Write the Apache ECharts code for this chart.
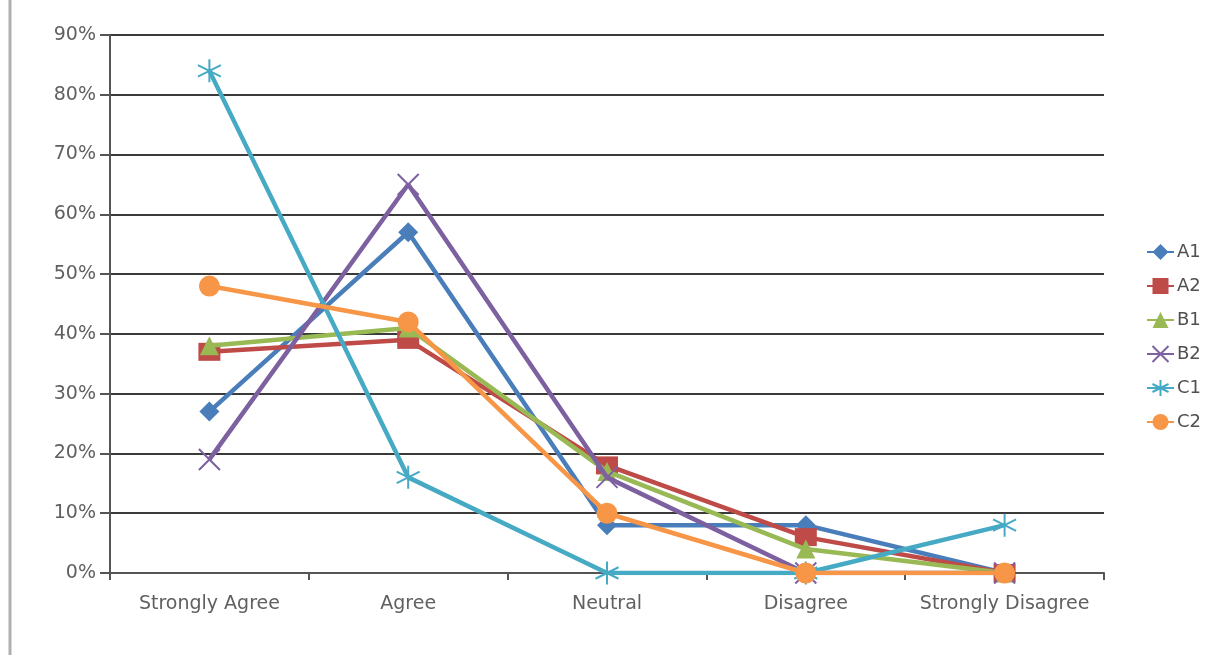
<!DOCTYPE html>
<html>
<head>
<meta charset="utf-8">
<script src="https://cdn.jsdelivr.net/npm/echarts@6/dist/echarts.min.js"></script>
<style>
  html, body { margin: 0; padding: 0; background: #fff; }
  #chart { width: 1232px; height: 655px; }
</style>
</head>
<body>
<div id="chart"></div>
<script>
// Survey responses per group, in percent
const categories = ['Strongly Agree', 'Agree', 'Neutral', 'Disagree', 'Strongly Disagree'];
const yTicks = [0, 10, 20, 30, 40, 50, 60, 70, 80, 90];
const seriesNames = ['A1', 'A2', 'B1', 'B2', 'C1', 'C2'];
const A1 = [27, 57, 8, 8, 0];
const A2 = [37, 39, 18, 6, 0];
const B1 = [38, 41, 17, 4, 0];
const B2 = [19, 65, 16, 0, 0];
const C1 = [84, 16, 0, 0, 8];
const C2 = [48, 42, 10, 0, 0];

const values = [A1, A2, B1, B2, C1, C2];
const colors = ['#4a7ebb', '#be4b48', '#98b954', '#7d60a0', '#46aac5', '#f79646'];

const crossPath = 'path://M0,0L10,10M10,0L0,10';
const starPath = 'path://M5,0L5,10M0.7,2.5L9.3,7.5M0.7,7.5L9.3,2.5';
const symbols = ['diamond', 'rect', 'triangle', crossPath, starPath, 'circle'];
const symbolSizes = [20, [22, 18], 19, 21, 23, 21];

const chart = echarts.init(document.getElementById('chart'));

const series = seriesNames.map((name, i) => {
  const stroked = i === 3 || i === 4;
  return {
    name: name,
    type: 'line',
    data: values[i],
    symbol: symbols[i],
    symbolSize: symbolSizes[i],
    showAllSymbol: true,
    lineStyle: { color: colors[i], width: 4.5 },
    itemStyle: stroked
      ? { color: colors[i], borderColor: colors[i], borderWidth: 2 }
      : { color: colors[i], borderWidth: 0 },
    emphasis: { disabled: true },
    z: 2 + i
  };
});

chart.setOption({
  animation: false,
  color: colors,
  textStyle: { fontFamily: 'DejaVu Sans' },
  grid: { left: 110, right: 128, top: 35, bottom: 82 },
  legend: {
    orient: 'vertical',
    left: 1141,
    top: 238,
    itemWidth: 27,
    itemHeight: 20,
    itemGap: 16,
    data: seriesNames,
    textStyle: { fontSize: 18, color: '#505050', fontFamily: 'DejaVu Sans', padding: [0, 0, 0, -2] }
  },
  xAxis: {
    type: 'category',
    data: categories,
    boundaryGap: true,
    axisLine: { lineStyle: { color: '#555', width: 2 } },
    axisTick: { show: true, length: 7, lineStyle: { color: '#555', width: 2 } },
    axisLabel: { color: '#606060', fontSize: 19, margin: 22, interval: 0 }
  },
  yAxis: {
    type: 'value',
    min: 0,
    max: 90,
    interval: 10,
    axisLine: { show: true, lineStyle: { color: '#555', width: 2 } },
    axisTick: { show: true, length: 10, lineStyle: { color: '#555', width: 2 } },
    axisLabel: {
      color: '#606060',
      fontSize: 19,
      margin: 14,
      formatter: v => (yTicks.indexOf(v) >= 0 ? v + '%' : '')
    },
    splitLine: { show: true, lineStyle: { color: '#3a3a3a', width: 2 } }
  },
  graphic: [
    {
      type: 'line',
      shape: { x1: 10, y1: 0, x2: 10, y2: 655 },
      style: { stroke: '#b0b0b0', lineWidth: 3 },
      silent: true
    }
  ],
  series: series
});
</script>
</body>
</html>
